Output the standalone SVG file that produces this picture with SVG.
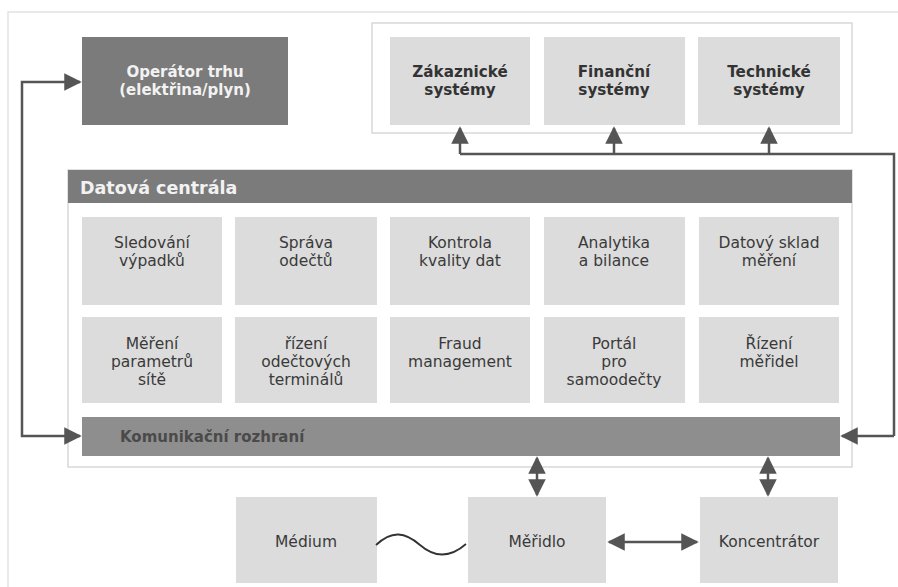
<svg xmlns="http://www.w3.org/2000/svg" width="898" height="587" viewBox="0 0 898 587">
<style>
.lt{fill:#dcdcdc}
.dk{fill:#7b7b7b}
.t{font-family:"DejaVu Sans",Verdana,sans-serif;font-size:15.5px;fill:#3a3a3a;text-anchor:middle}
.tb{font-family:"DejaVu Sans",Verdana,sans-serif;font-size:15.2px;font-weight:bold;fill:#333;text-anchor:middle}
.tw{font-family:"DejaVu Sans",Verdana,sans-serif;font-size:15px;font-weight:bold;fill:#f2f2f2;text-anchor:middle}
.ln{fill:none;stroke:#555;stroke-width:2.5}
</style>
<defs>
<marker id="ah2" viewBox="0 0 10 10" refX="9" refY="5" markerWidth="7" markerHeight="7" orient="auto-start-reverse">
<path d="M0,0 L10,5 L0,10 z" fill="#555"/>
</marker>
</defs>
<rect x="0" y="0" width="898" height="587" fill="#fff"/>
<path d="M8,587 V12 H898" fill="none" stroke="#e2e2e2" stroke-width="1.5"/>

<g id="operator">
<rect class="dk" x="82" y="37" width="206" height="88"/>
<text class="tw" x="185" y="77">Operátor trhu</text>
<text class="tw" x="185" y="95">(elektřina/plyn)</text>
</g>

<g id="systems">
<rect x="372" y="23" width="480" height="110" fill="#fff" stroke="#d8d8d8" stroke-width="1.5"/>
<g id="zakaznicke">
<rect class="lt" x="390" y="37" width="140" height="88"/>
<text class="tb" x="460" y="77">Zákaznické</text>
<text class="tb" x="460" y="95">systémy</text>
</g>
<g id="financni">
<rect class="lt" x="544" y="37" width="141" height="88"/>
<text class="tb" x="614" y="77">Finanční</text>
<text class="tb" x="614" y="95">systémy</text>
</g>
<g id="technicke">
<rect class="lt" x="698" y="37" width="142" height="88"/>
<text class="tb" x="769" y="77">Technické</text>
<text class="tb" x="769" y="95">systémy</text>
</g>
</g>

<g id="datova-centrala">
<rect x="68" y="170" width="784" height="297" fill="#fff" stroke="#d8d8d8" stroke-width="1.5"/>
<rect class="dk" x="68" y="170" width="784" height="33"/>
<text x="80" y="194" font-family="'DejaVu Sans',Verdana,sans-serif" font-size="17.5" font-weight="bold" fill="#f2f2f2">Datová centrála</text>

<g id="sledovani"><rect class="lt" x="82" y="217" width="140" height="88"/>
<text class="t" x="152" y="248">Sledování</text><text class="t" x="152" y="266">výpadků</text></g>
<g id="sprava"><rect class="lt" x="235" y="217" width="142" height="88"/>
<text class="t" x="306" y="248">Správa</text><text class="t" x="306" y="266">odečtů</text></g>
<g id="kontrola"><rect class="lt" x="390" y="217" width="140" height="88"/>
<text class="t" x="460" y="248">Kontrola</text><text class="t" x="460" y="266">kvality dat</text></g>
<g id="analytika"><rect class="lt" x="544" y="217" width="141" height="88"/>
<text class="t" x="614" y="248">Analytika</text><text class="t" x="614" y="266">a bilance</text></g>
<g id="sklad"><rect class="lt" x="699" y="217" width="140" height="88"/>
<text class="t" x="769" y="248">Datový sklad</text><text class="t" x="769" y="266">měření</text></g>

<g id="mereni-parametru"><rect class="lt" x="82" y="317" width="140" height="86"/>
<text class="t" x="152" y="349">Měření</text><text class="t" x="152" y="367">parametrů</text><text class="t" x="152" y="385">sítě</text></g>
<g id="rizeni-terminalu"><rect class="lt" x="235" y="317" width="142" height="86"/>
<text class="t" x="306" y="349">řízení</text><text class="t" x="306" y="367">odečtových</text><text class="t" x="306" y="385">terminálů</text></g>
<g id="fraud"><rect class="lt" x="390" y="317" width="140" height="86"/>
<text class="t" x="460" y="349">Fraud</text><text class="t" x="460" y="367">management</text></g>
<g id="portal"><rect class="lt" x="544" y="317" width="141" height="86"/>
<text class="t" x="614" y="349">Portál</text><text class="t" x="614" y="367">pro</text><text class="t" x="614" y="385">samoodečty</text></g>
<g id="rizeni-meridel"><rect class="lt" x="699" y="317" width="140" height="86"/>
<text class="t" x="769" y="349">Řízení</text><text class="t" x="769" y="367">měřidel</text></g>

<g id="komunikacni"><rect x="82" y="417" width="758" height="39" fill="#8e8e8e"/>
<text x="120" y="442" font-family="'DejaVu Sans',Verdana,sans-serif" font-size="15" font-weight="bold" fill="#4a4a4a">Komunikační rozhraní</text></g>
</g>

<g id="medium"><rect class="lt" x="236" y="497" width="141" height="86"/>
<text class="t" x="306" y="547">Médium</text></g>
<g id="meridlo"><rect class="lt" x="468" y="497" width="138" height="86"/>
<text class="t" x="537" y="547">Měřidlo</text></g>
<g id="koncentrator"><rect class="lt" x="700" y="497" width="138" height="86"/>
<text class="t" x="769" y="547">Koncentrátor</text></g>

<g id="connectors">
<path class="ln" d="M80,82 H22 V436 H80" marker-start="url(#ah2)" marker-end="url(#ah2)"/>
<path class="ln" d="M894,436 V154 H460"/>
<path class="ln" d="M460,154 V128" marker-end="url(#ah2)"/>
<path class="ln" d="M614,154 V128" marker-end="url(#ah2)"/>
<path class="ln" d="M769,154 V128" marker-end="url(#ah2)"/>
<path class="ln" d="M894,436 H842" marker-end="url(#ah2)"/>
<path class="ln" d="M537,458 V495" marker-start="url(#ah2)" marker-end="url(#ah2)"/>
<path class="ln" d="M768,458 V495" marker-start="url(#ah2)" marker-end="url(#ah2)"/>
<path class="ln" d="M609,542 H697" marker-start="url(#ah2)" marker-end="url(#ah2)"/>
<path d="M376,545 C392,530 405,532 420,545 C435,558 450,558 466,544" fill="none" stroke="#333" stroke-width="1.8"/>
</g>
</svg>
